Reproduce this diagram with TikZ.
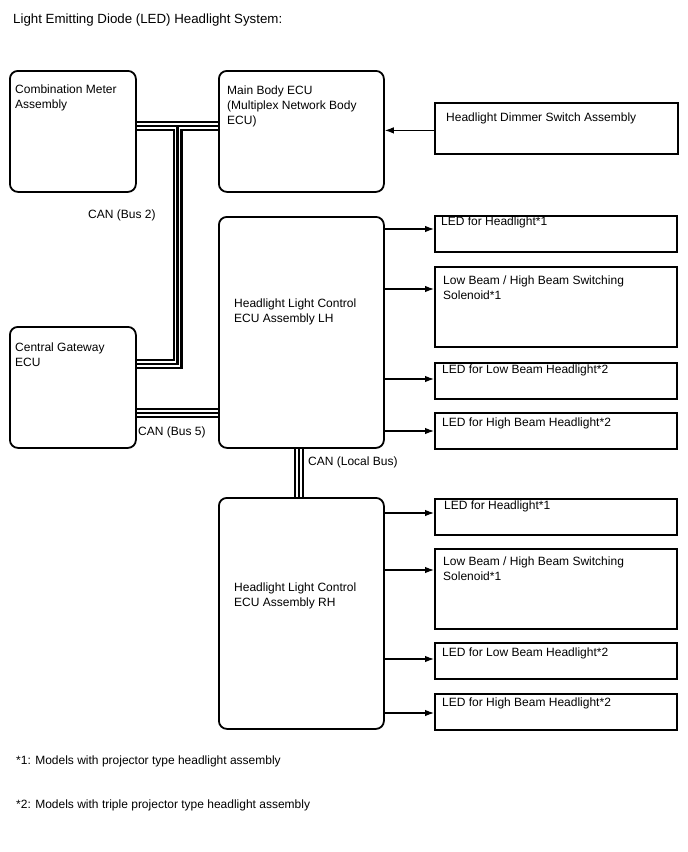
\documentclass[tikz,border=0pt]{standalone}
\usepackage{fontspec}
\setmainfont{Liberation Sans}
\usetikzlibrary{arrows.meta}
\tikzset{
  rbox/.style={draw=black, line width=1.8pt, rounded corners=8pt, anchor=north west, inner sep=0pt},
  sbox/.style={draw=black, line width=1.8pt, anchor=north west, inner sep=0pt},
  txt/.style={anchor=west, inner sep=0pt, align=left, font=\fontsize{12}{15}\selectfont},
  arr/.style={line width=1.1pt, -{Latex[length=9pt,width=6.5pt]}},
  busA/.style={line width=10pt, black},
  busB/.style={line width=5.8pt, white},
  busC/.style={line width=2.1pt, black}
}
\begin{document}
\begin{tikzpicture}[x=1pt,y=-1pt]
\useasboundingbox (0,0) rectangle (688,852);
% rounded boxes
\node[rbox, minimum width=126pt, minimum height=121pt] (cm) at (9,70) {};
\node[rbox, minimum width=165pt, minimum height=121pt] (mb) at (218,70) {};
\node[rbox, minimum width=126pt, minimum height=121pt] (cg) at (9,326) {};
\node[rbox, minimum width=165pt, minimum height=231pt] (lh) at (218,216) {};
\node[rbox, minimum width=165pt, minimum height=231pt] (rh) at (218,497) {};
% square boxes
\node[sbox, minimum width=243pt, minimum height=51pt] (dim) at (434,102) {};
\node[sbox, minimum width=242pt, minimum height=36pt] (l1) at (434,215) {};
\node[sbox, minimum width=242pt, minimum height=80pt] (l2) at (434,266) {};
\node[sbox, minimum width=242pt, minimum height=36pt] (l3) at (434,362) {};
\node[sbox, minimum width=242pt, minimum height=36pt] (l4) at (434,412) {};
\node[sbox, minimum width=242pt, minimum height=36pt] (r1) at (434,498) {};
\node[sbox, minimum width=242pt, minimum height=80pt] (r2) at (434,548) {};
\node[sbox, minimum width=242pt, minimum height=36pt] (r3) at (434,642) {};
\node[sbox, minimum width=242pt, minimum height=36pt] (r4) at (434,693) {};
% texts
\node[txt, font=\fontsize{13.3}{16}\selectfont] (title) at (13,20) {Light Emitting Diode (LED) Headlight System:};
\node[txt] (tcm) at (15,98) {Combination Meter\\Assembly};
\node[txt] (tmb) at (227,106) {Main Body ECU\\(Multiplex Network Body\\ECU)};
\node[txt] (tcg) at (15,355) {Central Gateway\\ECU};
\node[txt] (tlh) at (234,312) {Headlight Light Control\\ECU Assembly LH};
\node[txt] (trh) at (234,596) {Headlight Light Control\\ECU Assembly RH};
\node[txt] (tdim) at (446,118) {Headlight Dimmer Switch Assembly};
\node[txt] (tl1) at (441,222) {LED for Headlight*1};
\node[txt] (tl2) at (443,288) {Low Beam / High Beam Switching\\Solenoid*1};
\node[txt] (tl3) at (442,370) {LED for Low Beam Headlight*2};
\node[txt] (tl4) at (442,423) {LED for High Beam Headlight*2};
\node[txt] (tr1) at (444,506) {LED for Headlight*1};
\node[txt] (tr2) at (443,569) {Low Beam / High Beam Switching\\Solenoid*1};
\node[txt] (tr3) at (442,653) {LED for Low Beam Headlight*2};
\node[txt] (tr4) at (442,703) {LED for High Beam Headlight*2};
\node[txt] (bus2) at (88,215) {CAN (Bus 2)};
\node[txt] (bus5) at (138,432) {CAN (Bus 5)};
\node[txt] (lbus) at (308,462) {CAN (Local Bus)};
\node[txt] (fn1) at (16,761) {*1: Models with projector type headlight assembly};
\node[txt] (fn2) at (16,805) {*2: Models with triple projector type headlight assembly};
% bus coordinates
\coordinate (j) at (177.5,126);
\coordinate (k) at (177.5,364);
\coordinate (b5) at (177,413);
\coordinate (lb) at (299,460);
% buses, three layers
\foreach \s in {busA,busB,busC}{
  \draw[\s] (cm.east |- j) -- (mb.west |- j);
  \draw[\s] (j) -- (k) -- (cg.east |- k);
  \draw[\s] (cg.east |- b5) -- (lh.west |- b5);
  \draw[\s] (lh.south -| lb) -- (rh.north -| lb);
}
% arrows
\draw[arr] ([yshift=-2]dim.west) -- ([yshift=-2]dim.west -| mb.east);
\draw[arr] (lh.east |- 0,229) -- (l1.west |- 0,229);
\draw[arr] (lh.east |- 0,289) -- (l2.west |- 0,289);
\draw[arr] (lh.east |- 0,379) -- (l3.west |- 0,379);
\draw[arr] (lh.east |- 0,431) -- (l4.west |- 0,431);
\draw[arr] (rh.east |- 0,513) -- (r1.west |- 0,513);
\draw[arr] (rh.east |- 0,570) -- (r2.west |- 0,570);
\draw[arr] (rh.east |- 0,659) -- (r3.west |- 0,659);
\draw[arr] (rh.east |- 0,713) -- (r4.west |- 0,713);
\end{tikzpicture}
\end{document}
